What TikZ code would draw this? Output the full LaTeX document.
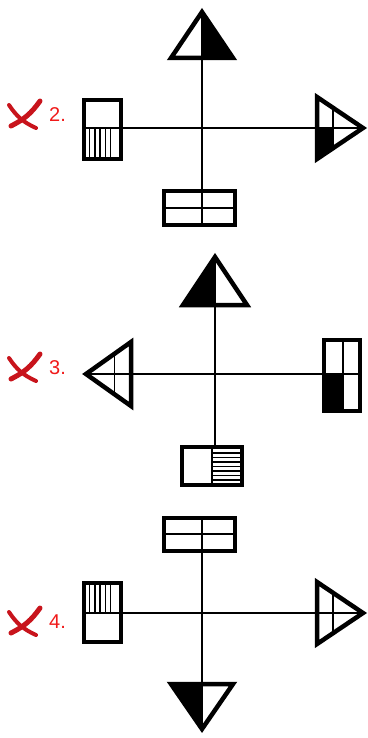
\documentclass[tikz,border=0pt]{standalone}
\usepackage{fontspec}
\setmainfont{Liberation Sans}
\usepackage{xcolor}
\usepackage{tikz}
\usetikzlibrary{calc}
\definecolor{ink}{HTML}{000000}
\definecolor{xred}{HTML}{C8141C}
\definecolor{tagred}{HTML}{F01A1A}

\begin{document}
\begin{tikzpicture}[x=1pt,y=-1pt,
  sym/.style={draw=ink,line width=4.5pt},
  axis/.style={draw=ink,line width=1.6pt},
  hatch/.style={draw=ink,line width=1.5pt},
  cross/.style={draw=xred,line width=5pt,line cap=round},
  tag/.style={text=tagred,font=\fontsize{20}{20}\selectfont,anchor=west,inner sep=0pt}]
  \useasboundingbox (0,0) rectangle (367,738);
  % red crosses and numbers
  \foreach \y/\n in {115/2,368/3,622/4}{
    \draw[cross] (40,{\y-14}) to[bend left=14] (11,{\y+11});
    \draw[cross,line width=4pt] (9,{\y-10}) to[bend right=16] (36,{\y+13});
    \node[tag] (tag\n) at (49,\y) {\n.};
  }
  % --- 2. ---
  \coordinate (top2) at (202,12);
  \coordinate (bot2) at (202,225);
  \coordinate (lft2) at (121,128);
  \coordinate (rgt2) at (363,128);
  \draw[axis] (top2) -- (bot2);
  \draw[axis] (lft2) -- (rgt2);
  \fill[ink] (top2) -- (233,58) -- (202,58) -- cycle;
  \draw[sym] (top2) -- (233,58) -- (171,58) -- cycle;
  \draw[sym] (84,100) rectangle (121,159);
  \draw[axis] (84,128) -- (121,128);
  \foreach \x in {89.5,94.8,...,116}
    \draw[hatch] (\x,128) -- (\x,159);
  \fill[ink] (317,128) -- (333,128) -- ($(317,159)!0.348!(rgt2)$) -- (317,159) -- cycle;
  \draw[sym] (317,97) -- (rgt2) -- (317,159) -- cycle;
  \draw[axis] ($(317,97)!0.348!(rgt2)$) -- ($(317,159)!0.348!(rgt2)$);
  \draw[sym] (164,191) rectangle (235,225);
  \draw[axis] (164,208) -- (235,208);
  % --- 3. ---
  \coordinate (top3) at (215,257);
  \coordinate (bot3) at (215,447);
  \coordinate (lft3) at (86,374);
  \coordinate (rgt3) at (324,374);
  \draw[axis] (top3) -- (bot3);
  \draw[axis] (lft3) -- (rgt3);
  \fill[ink] (top3) -- (215,305) -- (183,305) -- cycle;
  \draw[sym] (top3) -- (247,305) -- (183,305) -- cycle;
  \draw[sym] (131,342) -- (lft3) -- (131,406) -- cycle;
  \draw[axis] ($(131,342)!0.37!(lft3)$) -- ($(131,406)!0.37!(lft3)$);
  \fill[ink] (324,374) rectangle (343,411);
  \draw[sym] (324,340) rectangle (360,411);
  \draw[axis] (343,340) -- (343,411);
  \draw[axis] (324,374) -- (360,374);
  \draw[sym] (182,447) rectangle (242,485);
  \draw[axis] (212,447) -- (212,485);
  \foreach \y in {452.8,457.3,...,481}
    \draw[hatch] (212,\y) -- (242,\y);
  % --- 4. ---
  \coordinate (top4) at (202,551);
  \coordinate (bot4) at (202,729);
  \coordinate (lft4) at (121,613);
  \coordinate (rgt4) at (363,613);
  \draw[axis] (top4) -- (bot4);
  \draw[axis] (lft4) -- (rgt4);
  \draw[sym] (164,518) rectangle (235,551);
  \draw[axis] (164,534) -- (235,534);
  \draw[axis] (202,518) -- (202,551);
  \draw[sym] (84,583) rectangle (121,642);
  \draw[axis] (84,613) -- (121,613);
  \foreach \x in {89.5,94.8,...,116}
    \draw[hatch] (\x,583) -- (\x,613);
  \draw[sym] (317,582) -- (rgt4) -- (317,644) -- cycle;
  \draw[axis] ($(317,582)!0.348!(rgt4)$) -- ($(317,644)!0.348!(rgt4)$);
  \fill[ink] (171,684) -- (202,684) -- (bot4) -- cycle;
  \draw[sym] (171,684) -- (233,684) -- (bot4) -- cycle;
\end{tikzpicture}
\end{document}
